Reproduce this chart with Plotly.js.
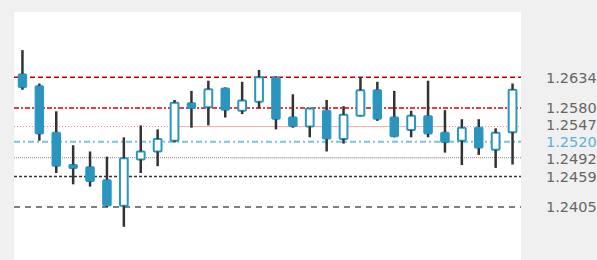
<!DOCTYPE html>
<html>
<head>
<meta charset="utf-8">
<script src="https://cdn.plot.ly/plotly-3.0.1.min.js"></script>
<style>html,body{margin:0;padding:0;background:#f0f0f0;}#chart{width:597px;height:260px;}</style>
</head>
<body>
<div id="chart"></div>
<script>
// ---- data ----
const categories = Array.from({length: 30}, (_, i) => i);
const opens  = [1.2640,1.2619,1.2537,1.2480,1.2476,1.2453,1.2407,1.2489,1.2503,1.2522,
                1.2589,1.2581,1.2615,1.2575,1.2591,1.2634,1.2564,1.2547,1.2576,1.2525,
                1.2566,1.2612,1.2564,1.2541,1.2566,1.2537,1.2522,1.2546,1.2506,1.2537];
const highs  = [1.2682,1.2623,1.2574,1.2514,1.2503,1.2494,1.2528,1.2549,1.2542,1.2594,
                1.2610,1.2628,1.2616,1.2626,1.2647,1.2636,1.2604,1.2580,1.2594,1.2583,
                1.2634,1.2626,1.2610,1.2575,1.2628,1.2576,1.2560,1.2560,1.2544,1.2623];
const lows   = [1.2612,1.2522,1.2465,1.2445,1.2441,1.2405,1.2370,1.2465,1.2477,1.2519,
                1.2545,1.2549,1.2563,1.2569,1.2579,1.2542,1.2545,1.2528,1.2503,1.2517,
                1.2565,1.2557,1.2528,1.2528,1.2528,1.2501,1.2479,1.2497,1.2474,1.2480];
const closes = [1.2616,1.2534,1.2477,1.2473,1.2450,1.2407,1.2491,1.2503,1.2525,1.2589,
                1.2579,1.2613,1.2576,1.2593,1.2634,1.2560,1.2547,1.2579,1.2525,1.2568,
                1.2611,1.2560,1.2529,1.2566,1.2534,1.2519,1.2545,1.2509,1.2536,1.2612];
const levelValues = [1.2634, 1.2580, 1.2547, 1.2520, 1.2492, 1.2459, 1.2405];
const levelLabels = ['1.2634','1.2580','1.2547','1.2520','1.2492','1.2459','1.2405'];

// ---- styles ----
const BLUE = '#2a96bf';
const levelStyles = [
  {color:'#c00000', width:1.5, dash:'5px,3px'},
  {color:'#e00000', width:1.5, dash:'5px,2px,2px,2px'},
  {color:'#f08a8a', width:1,   dash:'1px,2px'},
  {color:'#78c3dd', width:2,   dash:'6px,3px,2px,3px'},
  {color:'#8a8a8a', width:1,   dash:'1px,1px'},
  {color:'#333333', width:1.5, dash:'3px,2px'},
  {color:'#555555', width:1.5, dash:'6px,5px'}
];
const labelColors = ['#666','#666','#666','#5ab3d5','#666','#666','#666'];
const labelShift = [0, 0, 2, 0, -1, 0, 0];

// ---- build traces ----
const incX=[], incBase=[], incH=[], decX=[], decBase=[], decH=[];
const wx=[], wy=[];
categories.forEach((c,i)=>{
  const o=opens[i], cl=closes[i], top=Math.max(o,cl), bot=Math.min(o,cl);
  if (cl>=o){ incX.push(c); incBase.push(o); incH.push(cl-o); }
  else { decX.push(c); decBase.push(cl); decH.push(o-cl); }
  if (highs[i]>top){ wx.push(c,c,null); wy.push(top,highs[i],null); }
  if (lows[i]<bot){ wx.push(c,c,null); wy.push(bot,lows[i],null); }
});

const traces = [
  {type:'bar', x:incX, base:incBase, y:incH, width:0.46,
   marker:{color:'#ffffff', line:{color:BLUE, width:2}}, hoverinfo:'skip'},
  {type:'bar', x:decX, base:decBase, y:decH, width:0.5,
   marker:{color:BLUE, line:{color:BLUE, width:1}}, hoverinfo:'skip'},
  {type:'scatter', mode:'lines', x:wx, y:wy, connectgaps:false,
   line:{color:'#333333', width:2.5}, hoverinfo:'skip'}
];

const shapes = levelValues.map((v,i)=>({
  type:'line', xref:'paper', x0:0, x1:1, yref:'y', y0:v, y1:v, layer:'below',
  line: levelStyles[i]
}));
// solid overlay segments
shapes.push({type:'line', xref:'x', x0:8.8, x1:25, yref:'y', y0:levelValues[2], y1:levelValues[2],
  layer:'below', line:{color:'#f4b0b0', width:1}});
shapes.push({type:'line', xref:'x', x0:12.3, x1:25, yref:'y', y0:levelValues[4], y1:levelValues[4],
  layer:'below', line:{color:'#c8c8c8', width:1}});

const annotations = levelValues.map((v,i)=>({
  xref:'paper', x:1, xshift:23, xanchor:'left', yref:'y', y:v, yanchor:'middle',
  yshift: labelShift[i], height:13, valign:'middle',
  text:levelLabels[i], showarrow:false,
  font:{family:'DejaVu Sans', size:14.5, color:labelColors[i]}
}));

const layout = {
  width:597, height:260,
  margin:{l:14, r:76, t:12, b:0, pad:0},
  paper_bgcolor:'#f0f0f0', plot_bgcolor:'#ffffff',
  showlegend:false, barmode:'overlay', barcornerradius:1,
  xaxis:{range:[-0.5,29.5], visible:false, fixedrange:true},
  yaxis:{range:[1.23114,1.27493], visible:false, fixedrange:true},
  shapes: shapes, annotations: annotations
};
Plotly.newPlot('chart', traces, layout, {displayModeBar:false, staticPlot:true});
</script>
</body>
</html>
